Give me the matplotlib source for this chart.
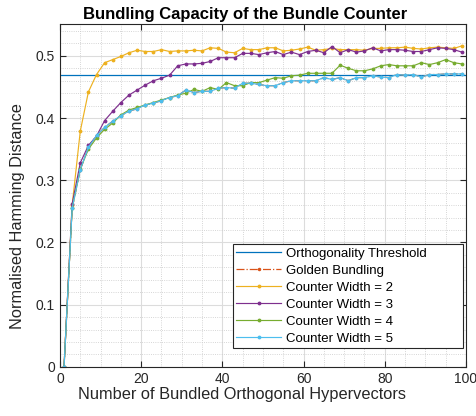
import matplotlib
matplotlib.use('Agg')
import matplotlib.pyplot as plt
from matplotlib.ticker import MultipleLocator

plt.rcParams['font.family'] = ['Liberation Sans', 'DejaVu Sans']

# number of bundled vectors
n = list(range(1, 100, 2))

threshold = 0.47

# counter width 2
cw2 = [0.0, 0.260, 0.379, 0.442, 0.470, 0.489, 0.494, 0.499, 0.505, 0.509,
       0.507, 0.507, 0.510, 0.507, 0.508, 0.508, 0.509, 0.508, 0.513, 0.512,
       0.506, 0.505, 0.512, 0.510, 0.510, 0.513, 0.513, 0.508, 0.509, 0.511,
       0.514, 0.509, 0.510, 0.512, 0.510, 0.510, 0.510, 0.509, 0.512, 0.512,
       0.513, 0.513, 0.514, 0.512, 0.511, 0.513, 0.514, 0.513, 0.512, 0.516]
# counter width 3
cw3 = [0.0, 0.262, 0.328, 0.356, 0.371, 0.396, 0.411, 0.425, 0.437, 0.445,
       0.453, 0.460, 0.464, 0.469, 0.484, 0.487, 0.487, 0.488, 0.491, 0.497,
       0.497, 0.497, 0.504, 0.504, 0.502, 0.505, 0.507, 0.502, 0.506, 0.502,
       0.507, 0.509, 0.505, 0.515, 0.505, 0.510, 0.506, 0.508, 0.513, 0.508,
       0.510, 0.510, 0.509, 0.507, 0.507, 0.510, 0.513, 0.512, 0.510, 0.506]
# counter width 4
cw4 = [0.0, 0.255, 0.318, 0.350, 0.368, 0.382, 0.392, 0.405, 0.413, 0.417,
       0.421, 0.425, 0.429, 0.433, 0.437, 0.440, 0.446, 0.443, 0.449, 0.446,
       0.457, 0.452, 0.452, 0.457, 0.457, 0.461, 0.465, 0.464, 0.468, 0.469,
       0.472, 0.472, 0.472, 0.472, 0.485, 0.480, 0.476, 0.476, 0.479, 0.484,
       0.486, 0.484, 0.484, 0.484, 0.489, 0.486, 0.489, 0.494, 0.489, 0.487]
# counter width 5
cw5 = [0.0, 0.255, 0.317, 0.353, 0.372, 0.385, 0.395, 0.404, 0.411, 0.415,
       0.421, 0.424, 0.428, 0.433, 0.436, 0.445, 0.441, 0.443, 0.443, 0.448,
       0.449, 0.448, 0.456, 0.456, 0.454, 0.452, 0.452, 0.457, 0.460, 0.460,
       0.460, 0.460, 0.465, 0.462, 0.465, 0.460, 0.465, 0.465, 0.468, 0.466,
       0.465, 0.470, 0.469, 0.470, 0.466, 0.470, 0.470, 0.471, 0.471, 0.471]
# golden bundling (lies under counter width 5)
golden = cw5

fig = plt.figure(figsize=(4.76, 4.16), dpi=100)
ax = fig.add_axes([0.126, 0.118, 0.853, 0.824])

ax.axhline(threshold, color='#0072BD', lw=0.9, label='Orthogonality Threshold')
ax.plot(n, golden, color='#D95319', ls='-.', marker='.', ms=3, lw=0.9, label='Golden Bundling')
ax.plot(n, cw2, color='#EDB120', marker='.', ms=3.5, lw=0.85, label='Counter Width = 2')
ax.plot(n, cw3, color='#7E2F8E', marker='.', ms=3.5, lw=0.85, label='Counter Width = 3')
ax.plot(n, cw4, color='#77AC30', marker='.', ms=3.5, lw=0.85, label='Counter Width = 4')
ax.plot(n, cw5, color='#4DBEEE', marker='.', ms=3.5, lw=0.85, label='Counter Width = 5')

ax.set_xlim(0, 100)
ax.set_ylim(0, 0.551)
ax.xaxis.set_major_locator(MultipleLocator(20))
ax.xaxis.set_minor_locator(MultipleLocator(5))
ax.yaxis.set_minor_locator(MultipleLocator(0.02))
ax.set_yticks([0, 0.1, 0.2, 0.3, 0.4, 0.5])
ax.set_yticklabels(['0', '0.1', '0.2', '0.3', '0.4', '0.5'])

ax.grid(which='major', color='#dcdcdc', lw=0.8)
ax.grid(which='minor', color='#c8c8c8', lw=0.6, ls=':')
ax.set_axisbelow(True)
ax.tick_params(which='major', direction='in', top=True, right=True, length=4,
               labelsize=10, colors='#262626', width=0.8)
ax.tick_params(which='minor', length=0)
for s in ax.spines.values():
    s.set_color('#262626')
    s.set_linewidth(0.8)

ax.set_title('Bundling Capacity of the Bundle Counter', fontsize=12, fontweight='bold',
             pad=4, x=0.456)
ax.set_xlabel('Number of Bundled Orthogonal Hypervectors', fontsize=11.8, color='#262626')
ax.xaxis.set_label_coords(0.448, -0.06)
ax.set_ylabel('Normalised Hamming Distance', fontsize=11.8, color='#262626')
ax.yaxis.set_label_coords(-0.086, 0.44)

leg = ax.legend(loc='lower left', bbox_to_anchor=(0.426, 0.055, 0.567, 0.30), mode='expand',
                fontsize=9.5, fancybox=False, framealpha=1,
                edgecolor='#262626', borderpad=0.25, labelspacing=0.36,
                handlelength=3.4, handletextpad=0.4, borderaxespad=0)
leg.get_frame().set_linewidth(0.8)

fig.savefig('out.png', dpi=100)
